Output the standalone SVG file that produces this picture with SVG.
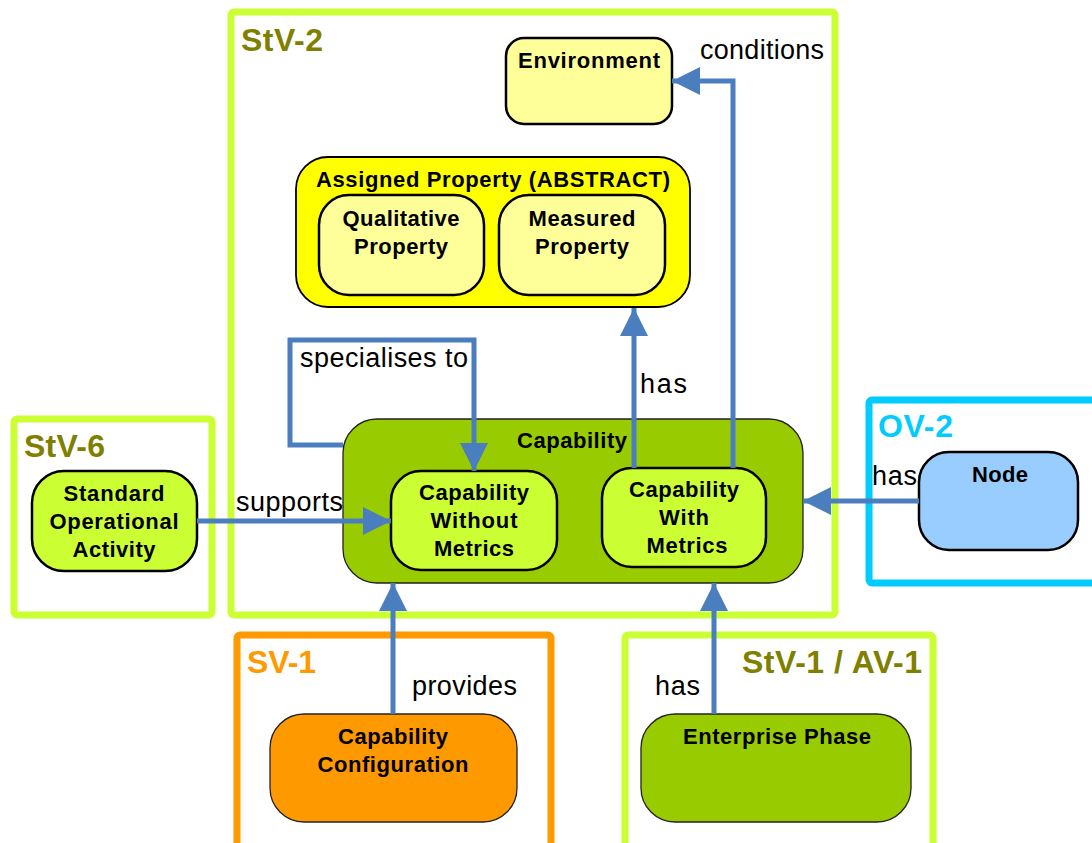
<svg xmlns="http://www.w3.org/2000/svg" width="1092" height="843" viewBox="0 0 1092 843">
<style>
.frame{fill:#ffffff;stroke-width:7}
.flabel{font-family:"Liberation Sans",Arial,sans-serif;font-weight:bold;font-size:32px}
.nt{font-family:"Liberation Sans",Arial,sans-serif;font-weight:bold;font-size:22px;fill:#000;text-anchor:middle}
.lbl{font-family:"Liberation Sans",Arial,sans-serif;font-size:27px;fill:#000}
.conn{fill:none;stroke:#4a7ebf;stroke-width:5}
.thick{stroke:#000;stroke-width:2.5}
.thin{stroke:#222;stroke-width:1.3}
</style>
<defs>
<marker id="arr" markerUnits="userSpaceOnUse" markerWidth="30" markerHeight="30" refX="28" refY="14" orient="auto">
<path d="M0,0 L28,14 L0,28 z" fill="#4a7ebf"/>
</marker>
</defs>
<rect width="1092" height="843" fill="#ffffff"/>

<g id="frame-stv2">
<rect class="frame" x="231" y="12" width="604" height="603" rx="3" stroke="#ccff33"/>
<text class="flabel" x="241" y="51" fill="#808000" textLength="82">StV-2</text>
</g>
<g id="frame-stv6">
<rect class="frame" x="14" y="419" width="198" height="196" rx="3" stroke="#ccff33"/>
<text class="flabel" x="24" y="457" fill="#808000" textLength="81">StV-6</text>
</g>
<g id="frame-ov2">
<rect class="frame" x="869" y="400" width="240" height="183" rx="3" stroke="#00ccff"/>
<text class="flabel" x="878" y="437" fill="#00ccff" textLength="75">OV-2</text>
</g>
<g id="frame-sv1">
<rect class="frame" x="237" y="635" width="314" height="230" rx="3" stroke="#ff9900"/>
<text class="flabel" x="247" y="673" fill="#ff9900" textLength="69">SV-1</text>
</g>
<g id="frame-stv1av1">
<rect class="frame" x="625" y="635" width="308" height="230" rx="3" stroke="#ccff33"/>
<text class="flabel" x="742" y="673" fill="#808000" textLength="180">StV-1 / AV-1</text>
</g>

<g id="environment">
<rect class="thick" x="506" y="38" width="166" height="86" rx="18" fill="#ffff99"/>
<text class="nt" x="589" y="68" textLength="142">Environment</text>
</g>

<g id="assigned-property">
<rect x="296" y="157" width="394" height="150" rx="32" fill="#ffff00" stroke="#000" stroke-width="1.8"/>
<text class="nt" x="493" y="187" textLength="354">Assigned Property (ABSTRACT)</text>
</g>
<g id="qualitative-property">
<rect class="thick" x="319" y="195" width="165" height="100" rx="30" fill="#ffff99"/>
<text class="nt" x="401" y="226" textLength="117">Qualitative</text>
<text class="nt" x="401" y="254" textLength="94">Property</text>
</g>
<g id="measured-property">
<rect class="thick" x="499" y="195" width="166" height="100" rx="30" fill="#ffff99"/>
<text class="nt" x="582" y="226" textLength="107">Measured</text>
<text class="nt" x="582" y="254" textLength="94">Property</text>
</g>

<g id="capability">
<rect class="thin" x="343" y="419" width="460" height="164" rx="34" fill="#99cc00"/>
<text class="nt" x="572" y="448" textLength="110">Capability</text>
</g>
<g id="capability-without-metrics">
<rect class="thick" x="391" y="471" width="166" height="99" rx="30" fill="#ccff33"/>
<text class="nt" x="474" y="500" textLength="110">Capability</text>
<text class="nt" x="474" y="528" textLength="87">Without</text>
<text class="nt" x="474" y="556" textLength="80">Metrics</text>
</g>
<g id="capability-with-metrics">
<rect class="thick" x="602" y="468" width="164" height="99" rx="30" fill="#ccff33"/>
<text class="nt" x="684" y="497" textLength="110">Capability</text>
<text class="nt" x="684" y="525" textLength="50">With</text>
<text class="nt" x="687" y="553" textLength="81">Metrics</text>
</g>

<g id="standard-operational-activity">
<rect class="thick" x="32" y="471" width="165" height="100" rx="32" fill="#ccff33"/>
<text class="nt" x="114" y="501" textLength="101">Standard</text>
<text class="nt" x="114" y="529" textLength="129">Operational</text>
<text class="nt" x="114" y="557" textLength="83">Activity</text>
</g>

<g id="node">
<rect class="thick" x="919" y="452" width="159" height="98" rx="30" fill="#99ccff"/>
<text class="nt" x="1000" y="482" textLength="56">Node</text>
</g>

<g id="capability-configuration">
<rect class="thin" x="270" y="714" width="247" height="108" rx="34" fill="#ff9900"/>
<text class="nt" x="393" y="744" textLength="110">Capability</text>
<text class="nt" x="393" y="772" textLength="151">Configuration</text>
</g>

<g id="enterprise-phase">
<rect class="thin" x="641" y="714" width="270" height="108" rx="34" fill="#99cc00"/>
<text class="nt" x="777" y="744" textLength="188">Enterprise Phase</text>
</g>

<g id="connectors">
<polyline class="conn" points="733,468 733,81 672,81" marker-end="url(#arr)"/>
<polyline class="conn" points="634,468 634,308" marker-end="url(#arr)"/>
<polyline class="conn" points="343,445 290,445 290,340 474,340 474,471" marker-end="url(#arr)"/>
<polyline class="conn" points="197,521 391,521" marker-end="url(#arr)"/>
<polyline class="conn" points="919,501 803,501" marker-end="url(#arr)"/>
<polyline class="conn" points="393,714 393,583" marker-end="url(#arr)"/>
<polyline class="conn" points="714,714 714,583" marker-end="url(#arr)"/>
<text class="lbl" x="700" y="59" textLength="124">conditions</text>
<text class="lbl" x="640" y="393" textLength="47">has</text>
<text class="lbl" x="300" y="367" textLength="168">specialises to</text>
<text class="lbl" x="236" y="511" textLength="107">supports</text>
<text class="lbl" x="872" y="485" textLength="45">has</text>
<text class="lbl" x="412" y="695" textLength="105">provides</text>
<text class="lbl" x="655" y="695" textLength="45">has</text>
</g>
</svg>
